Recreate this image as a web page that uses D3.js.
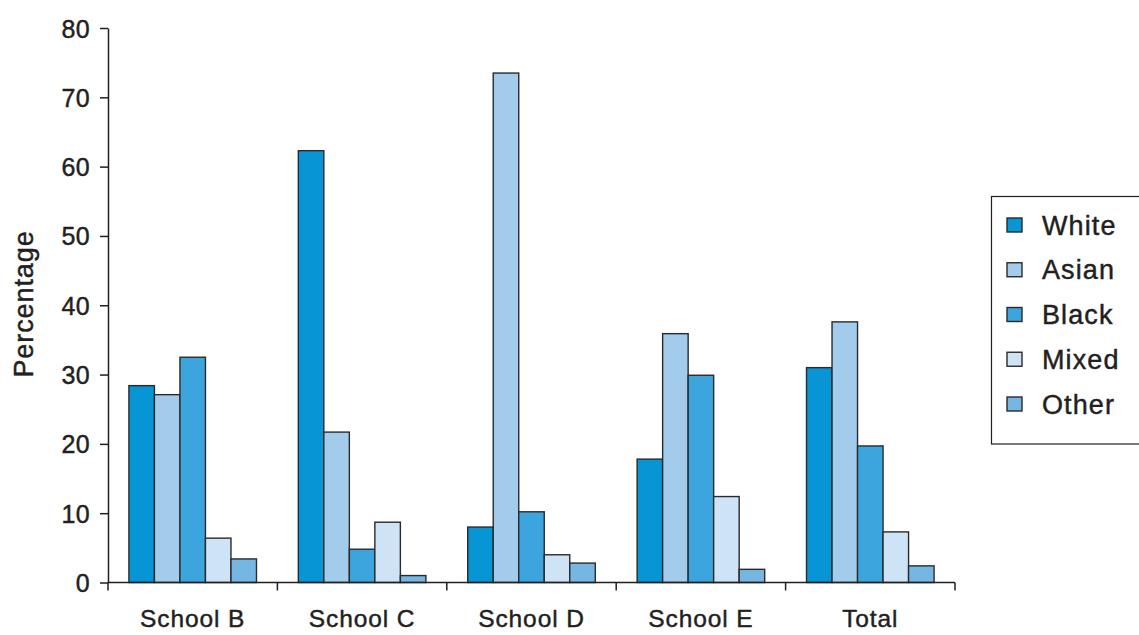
<!DOCTYPE html>
<html>
<head>
<meta charset="utf-8">
<script src="https://cdn.jsdelivr.net/npm/d3@7"></script>
<style>
  html, body { margin: 0; padding: 0; background: #fff; }
  svg { display: block; }
  text { font-family: "Liberation Sans", Arial, sans-serif; fill: #231f20; stroke: #231f20; stroke-width: 0.45px; }
</style>
</head>
<body>
<svg id="chart" width="1139" height="635"></svg>
<script>
const categories = ["School B", "School C", "School D", "School E", "Total"];
const seriesNames = ["White", "Asian", "Black", "Mixed", "Other"];
const white = [28.4, 62.3, 8.0, 17.8, 31.0];
const asian = [27.1, 21.7, 73.5, 35.9, 37.6];
const black = [32.5, 4.8, 10.2, 29.9, 19.7];
const mixed = [6.4, 8.7, 4.0, 12.4, 7.3];
const other = [3.4, 1.0, 2.8, 1.9, 2.4];
const yTicks = [0, 10, 20, 30, 40, 50, 60, 70, 80];
const colors = ["#0795d5", "#a2cbec", "#3ca5de", "#cfe3f6", "#76b6e3"];

(function () {
const seriesValues = [white, asian, black, mixed, other];
const data = categories.map((c, i) => ({
  category: c,
  values: seriesNames.map((s, j) => ({ series: s, value: seriesValues[j][i] }))
}));

const svg = d3.select("#chart");
const mLeft = 108, mRight = 955, mTop = 28, mBottom = 582.5;

const x0 = d3.scaleBand().domain(categories).range([mLeft, mRight]).paddingInner(0).paddingOuter(0);
const x1 = d3.scaleBand().domain(seriesNames).range([0, x0.bandwidth()]).paddingInner(0).paddingOuter(0.82);
const y = d3.scaleLinear().domain([0, 80]).range([mBottom, mTop]);
const color = d3.scaleOrdinal().domain(seriesNames).range(colors);

// bars
const groups = svg.append("g").selectAll("g").data(data).join("g")
  .attr("transform", d => `translate(${x0(d.category)},0)`);
groups.selectAll("rect").data(d => d.values).join("rect")
  .attr("x", d => x1(d.series))
  .attr("y", d => y(d.value))
  .attr("width", x1.bandwidth())
  .attr("height", d => y(0) - y(d.value))
  .attr("fill", d => color(d.series))
  .attr("stroke", "#2a2a2a")
  .attr("stroke-width", 1.4);

// y axis
const yAxis = d3.axisLeft(y).tickValues(yTicks).tickSize(8).tickPadding(10).tickSizeOuter(0);
const gy = svg.append("g").attr("transform", `translate(${mLeft},0)`).call(yAxis);
gy.select(".domain").attr("stroke", "#231f20").attr("stroke-width", 1.5);
gy.selectAll(".tick line").attr("stroke", "#231f20").attr("stroke-width", 1.5);
gy.selectAll(".tick text").style("font-size", "25px").attr("letter-spacing", "0.4px").attr("dy", "0.36em");

// x axis
const xAxis = d3.axisBottom(x0).tickSize(0).tickPadding(27);
const gx = svg.append("g").attr("transform", `translate(0,${mBottom})`).call(xAxis);
gx.select(".domain").remove();
gx.append("line").attr("x1", mLeft).attr("x2", mRight).attr("y1", 0).attr("y2", 0)
  .attr("stroke", "#231f20").attr("stroke-width", 1.5);
const boundaries = categories.map(c => x0(c)).concat([x0(categories[categories.length - 1]) + x0.bandwidth()]);
gx.selectAll(".bound").data(boundaries).join("line").attr("class", "bound")
  .attr("x1", d => d).attr("x2", d => d).attr("y1", 0).attr("y2", 8)
  .attr("stroke", "#231f20").attr("stroke-width", 1.5);
gx.selectAll(".tick text").style("font-size", "24.5px").attr("letter-spacing", "0.9px");

// y title
svg.append("text")
  .attr("transform", "translate(33,304) rotate(-90)")
  .attr("text-anchor", "middle")
  .style("font-size", "27px")
  .attr("letter-spacing", "0.9px")
  .text("Percentage");

// legend
const legend = svg.append("g");
legend.append("rect")
  .attr("x", 991.5).attr("y", 196.5).attr("width", 160).attr("height", 247.5)
  .attr("fill", "#fff").attr("stroke", "#231f20").attr("stroke-width", 1.2);
const ly = d3.scalePoint().domain(seriesNames).range([225, 404]);
const items = legend.selectAll("g.item").data(seriesNames).join("g").attr("class", "item")
  .attr("transform", d => `translate(0,${ly(d)})`);
items.append("rect").attr("x", 1007).attr("y", -7).attr("width", 15).attr("height", 14)
  .attr("fill", d => color(d)).attr("stroke", "#2a2a2a").attr("stroke-width", 1.4);
items.append("text").attr("x", 1042).attr("y", 0).attr("dy", "0.36em")
  .style("font-size", "27px").attr("letter-spacing", "1.1px").text(d => d);
})();
</script>
</body>
</html>
